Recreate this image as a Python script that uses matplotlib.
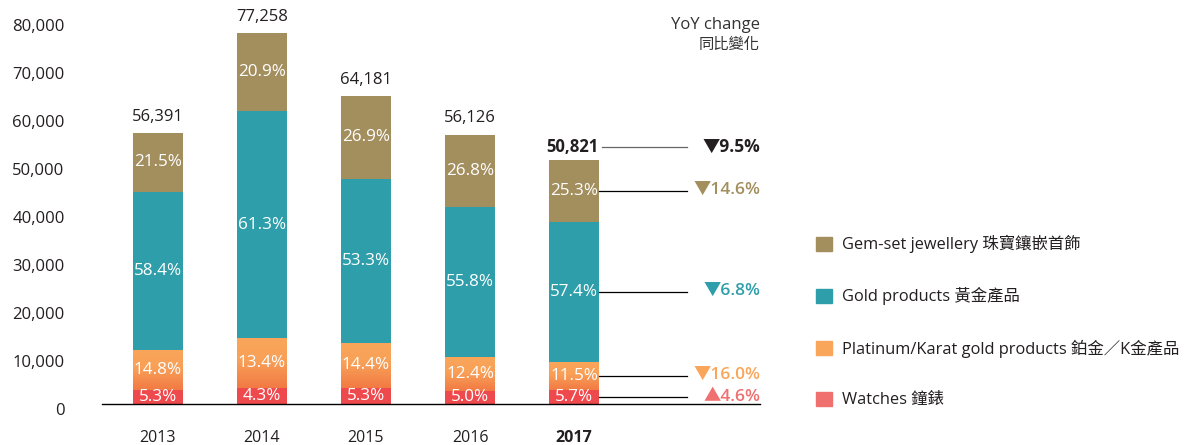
import numpy as np
import matplotlib
matplotlib.use('Agg')
import matplotlib.pyplot as plt
import matplotlib.transforms as mtransforms
from matplotlib.patches import Patch
from matplotlib.colors import LinearSegmentedColormap

plt.rcParams['font.family'] = ['Open Sans', 'Noto Sans CJK TC', 'DejaVu Sans']

years = ['2013', '2014', '2015', '2016', '2017']
totals = [56391, 77258, 64181, 56126, 50821]
pct_watches = [5.3, 4.3, 5.3, 5.0, 5.7]
pct_platinum = [14.8, 13.4, 14.4, 12.4, 11.5]
pct_gold = [58.4, 61.3, 53.3, 55.8, 57.4]
pct_gem = [21.5, 20.9, 26.9, 26.8, 25.3]

legend_labels = ['Gem-set jewellery 珠寶鑲嵌首飾', 'Gold products 黃金產品',
                 'Platinum/Karat gold products 鉑金／K金產品', 'Watches 鐘錶']
yoy_total = '▼9.5%'
yoy_segments = ['▲4.6%', '▼16.0%', '▼6.8%', '▼14.6%']  # watches, platinum, gold, gem

C_GEM = '#A38E5E'
C_GOLD = '#2E9EAA'
C_PLAT = '#F9A65A'
C_PLAT_DARK = '#F27A44'
C_WATCH = '#EE4A4E'
C_WATCH_LEG = '#F07070'
C_TEXT = '#231F20'

# segment values from share of total
pcts = np.array([pct_watches, pct_platinum, pct_gold, pct_gem])
tot = np.array(totals, dtype=float)
segs = pcts / pcts.sum(axis=0) * tot
bottoms = np.vstack([np.zeros(len(years)), np.cumsum(segs, axis=0)[:-1]])

fig = plt.figure(figsize=(12, 4.45), dpi=100)
ax = fig.add_axes([102 / 1200, 41 / 445, 658 / 1200, 394 / 445])

x = np.arange(len(years))
w = 0.48
colors = [C_WATCH, C_PLAT, C_GOLD, C_GEM]
bars = []
for i in range(4):
    b = ax.bar(x, segs[i], w, bottom=bottoms[i], color=colors[i], zorder=2, linewidth=0)
    bars.append(b)

# gradient on platinum segment
cmap = LinearSegmentedColormap.from_list('plat', [(0, C_PLAT_DARK), (0.55, '#F8A058'), (1, C_PLAT)])
grad = np.linspace(1, 0, 100).reshape(-1, 1)
for j, patch in enumerate(bars[1]):
    x0 = patch.get_x()
    im = ax.imshow(grad, extent=[x0, x0 + w, bottoms[1][j], bottoms[1][j] + segs[1][j]],
                   aspect='auto', cmap=cmap, zorder=2.5)
    im.set_clip_path(patch)

# percentage labels
for i, pc in enumerate(pcts):
    for j in range(len(years)):
        ax.text(x[j], bottoms[i][j] + segs[i][j] / 2, f'{pc[j]:.1f}%', ha='center', va='center',
                color='white', fontsize=12.3, zorder=4, clip_on=True)

# totals
for j in range(len(years) - 1):
    ax.annotate(f'{totals[j]:,}', (x[j], totals[j]), xytext=(0, 6), textcoords='offset points',
                ha='center', va='bottom', fontsize=12, color=C_TEXT)

last = len(years) - 1
ytot = totals[last] + 2750
ax.text(x[last] + w / 2, ytot, f'{totals[last]:,}', ha='right', va='center',
        fontsize=12, fontweight='bold', color=C_TEXT)
line_end = 5.087
ax.plot([x[last] + w / 2 + 0.03, line_end], [ytot, ytot], color='#666666', lw=0.9, zorder=3)
ax.text(5.788, ytot, yoy_total, ha='right', va='center', fontsize=12.5,
        fontweight='bold', color=C_TEXT)

yoy_colors = [C_WATCH_LEG, C_PLAT, C_GOLD, C_GEM]
for i in range(4):
    yc = bottoms[i][last] + segs[i][last] / 2
    ax.plot([x[last] + w / 2, line_end], [yc, yc], color='black', lw=0.9, zorder=3)
    ax.text(5.788, yc, yoy_segments[i], ha='right', va='center', fontsize=12.5,
            fontweight='semibold', color=yoy_colors[i])

# YoY header
ax.text(5.788, 78900, 'YoY change', ha='right', va='center', fontsize=12, color='#333333')
ax.text(5.788, 74600, '同比變化', ha='right', va='center', fontsize=11, color='#333333')

ax.set_xlim(-0.538, 5.788)
ax.set_ylim(0, 82083)
ax.set_yticks(range(0, 80001, 10000))
ax.set_yticklabels([f'{v:,}' for v in range(0, 80001, 10000)])
ax.set_xticks(x)
ax.set_xticklabels(years)
ax.get_xticklabels()[last].set_fontweight('bold')
ax.tick_params(axis='y', length=0, pad=27, labelsize=12, labelcolor=C_TEXT)
ax.tick_params(axis='x', length=0, pad=19, labelsize=11.5, labelcolor=C_TEXT)
offset = mtransforms.ScaledTranslation(0, -0.05, fig.dpi_scale_trans)
for lab in ax.get_yticklabels():
    lab.set_transform(lab.get_transform() + offset)

for s in ['top', 'right', 'left']:
    ax.spines[s].set_visible(False)
ax.spines['bottom'].set_color('black')
ax.spines['bottom'].set_linewidth(1)
ax.spines['bottom'].set_zorder(5)

handles = [Patch(color=C_GEM), Patch(color=C_GOLD), Patch(color=C_PLAT), Patch(color=C_WATCH_LEG)]
fig.legend(handles, legend_labels, loc='upper left', bbox_to_anchor=(808 / 1200, 1 - 227 / 445),
           frameon=False, fontsize=11.8, handlelength=0.98, handleheight=0.98,
           handletextpad=0.6, labelspacing=2.07, borderpad=0, labelcolor=C_TEXT)

fig.savefig('out.png', dpi=100)
